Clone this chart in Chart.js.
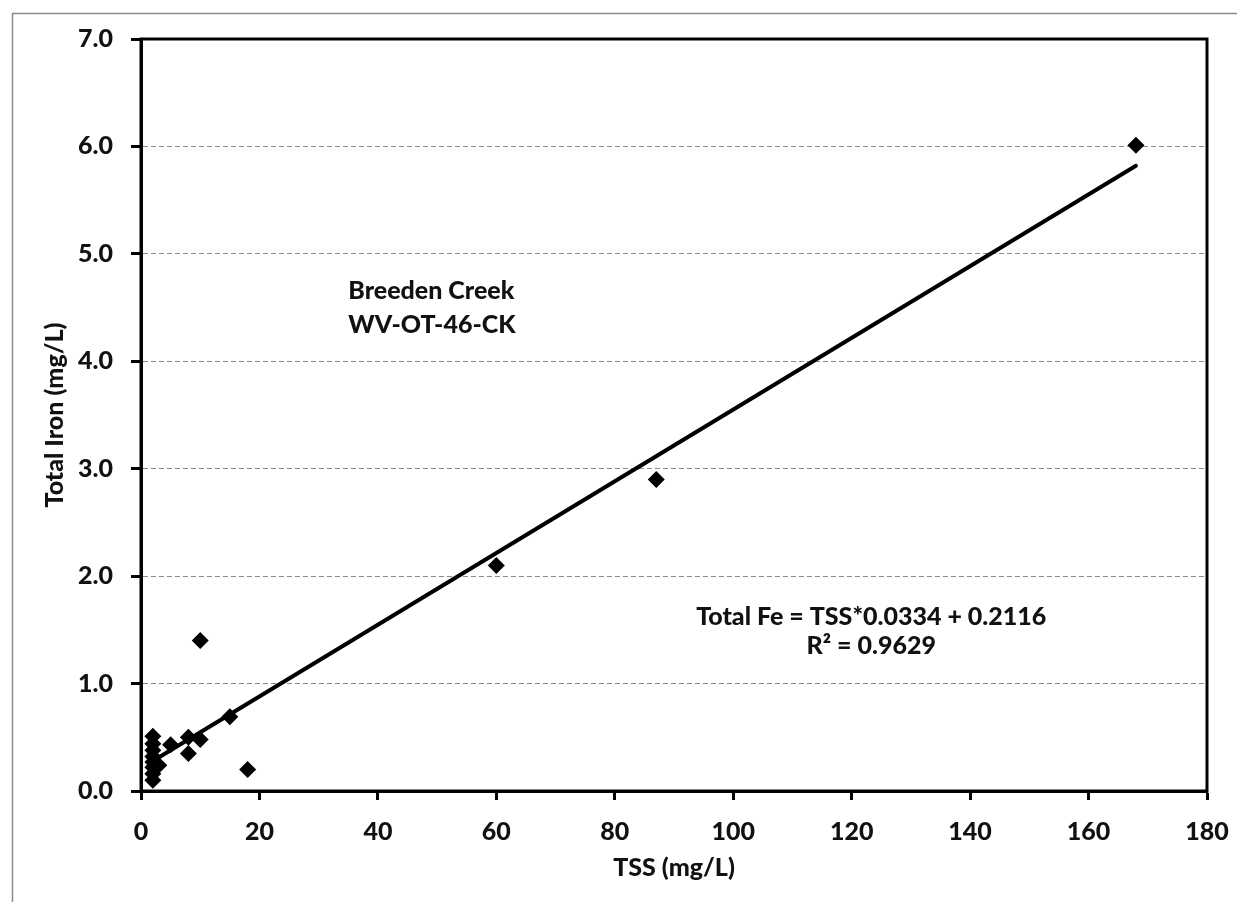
<!DOCTYPE html>
<html>
<head>
<meta charset="utf-8">
<script src="https://cdn.jsdelivr.net/npm/chart.js@4.4.0/dist/chart.umd.min.js"></script>
<style>
  html, body { margin: 0; padding: 0; background: #fff; }
  #wrap { width: 1237px; height: 902px; }
</style>
</head>
<body>
<div id="wrap"><canvas id="iron-chart" width="1237" height="902"></canvas></div>
<script>
// TSS vs total iron samples
const tssValues = [2, 2, 2, 2, 2, 2, 2, 2, 3, 5, 8, 8, 10, 15, 18, 10, 60, 87, 168];
const ironValues = [0.51, 0.44, 0.38, 0.32, 0.27, 0.22, 0.16, 0.10, 0.24, 0.43, 0.50, 0.35, 0.48, 0.69, 0.20, 1.40, 2.10, 2.90, 6.01];

// regression line end points
const trendX = [2, 168];
const trendY = [0.28, 5.82];

const xTicks = [0, 20, 40, 60, 80, 100, 120, 140, 160, 180];
const yTicks = [0, 1, 2, 3, 4, 5, 6, 7];

const siteLabel = ["Breeden Creek", "WV-OT-46-CK"];
const fitLabel = ["Total Fe = TSS*0.0334 + 0.2116", "R\u00b2 = 0.9629"];

const FONT = "Lato, 'Open Sans', sans-serif";
const FSIZE = 25;
const FWEIGHT = "900";

// outer gray frame + black plot frame + text notes
const decorPlugin = {
  id: "decor",
  beforeDraw(chart) {
    const c = chart.ctx;
    c.save();
    c.strokeStyle = "#8c8c8c";
    c.lineWidth = 1.5;
    c.beginPath();
    c.moveTo(12.5, chart.height);
    c.lineTo(12.5, 13.5);
    c.lineTo(chart.width, 13.5);
    c.stroke();
    c.restore();
  },
  afterDraw(chart) {
    const c = chart.ctx;
    const a = chart.chartArea;
    const xs = chart.scales.x;
    const ys = chart.scales.y;
    c.save();
    c.strokeStyle = "#000";
    c.lineWidth = 3;
    c.strokeRect(a.left, a.top, a.right - a.left, a.bottom - a.top);

    c.fillStyle = "#111";
    c.font = FWEIGHT + " " + FSIZE + "px " + FONT;
    c.textBaseline = "alphabetic";
    c.textAlign = "left";
    const sx = xs.getPixelForValue(35);
    const sy = ys.getPixelForValue(4.58);
    siteLabel.forEach((t, i) => c.fillText(t, sx, sy + i * 34));

    c.textAlign = "center";
    const fx = xs.getPixelForValue(123.3);
    const fy = ys.getPixelForValue(1.545);
    fitLabel.forEach((t, i) => c.fillText(t, fx, fy + i * 29));
    c.restore();
  },
};

new Chart(document.getElementById("iron-chart"), {
  type: "scatter",
  data: {
    datasets: [
      {
        label: "Samples",
        data: tssValues.map((x, i) => ({ x: x, y: ironValues[i] })),
        pointStyle: "rectRot",
        pointRadius: 8.5,
        pointHoverRadius: 8.5,
        backgroundColor: "#000",
        borderColor: "#000",
        borderWidth: 0,
        order: 1,
      },
      {
        label: "Trend",
        type: "line",
        data: trendX.map((x, i) => ({ x: x, y: trendY[i] })),
        borderColor: "#000",
        borderWidth: 4,
        borderCapStyle: "round",
        pointRadius: 0,
        fill: false,
        order: 2,
      },
    ],
  },
  options: {
    responsive: false,
    animation: false,
    devicePixelRatio: 1,
    layout: { padding: { left: 0, top: 39, right: 30, bottom: 0 } },
    plugins: {
      legend: { display: false },
      tooltip: { enabled: false },
    },
    scales: {
      x: {
        type: "linear",
        min: 0,
        max: 180,
        afterFit: (s) => { s.height = 111; s.paddingLeft = 0; s.paddingRight = 0; },
        afterBuildTicks: (s) => { s.ticks = xTicks.map((v) => ({ value: v })); },
        grid: {
          drawOnChartArea: false,
          tickLength: 9,
          tickWidth: 3,
          tickColor: "#000",
        },
        border: { color: "#000", width: 3 },
        ticks: {
          color: "#111",
          padding: 17,
          font: { family: FONT, size: FSIZE, weight: FWEIGHT },
        },
        title: {
          display: true,
          text: "TSS (mg/L)",
          color: "#111",
          padding: { top: 0, bottom: 19 },
          font: { family: FONT, size: FSIZE, weight: FWEIGHT },
        },
      },
      y: {
        type: "linear",
        min: 0,
        max: 7,
        afterFit: (s) => { s.width = 141; s.paddingTop = 0; s.paddingBottom = 0; },
        afterBuildTicks: (s) => { s.ticks = yTicks.map((v) => ({ value: v })); },
        grid: {
          color: (ctx) => (ctx.tick && (ctx.tick.value === 0 || ctx.tick.value === 7) ? "rgba(0,0,0,0)" : "#8a8a8a"),
          lineWidth: 1,
          tickLength: 10,
          tickWidth: 3,
          tickColor: "#000",
          tickBorderDash: [],
        },
        border: { color: "#000", width: 3, dash: [5, 3] },
        ticks: {
          color: "#111",
          padding: 18,
          callback: (v) => Number(v).toFixed(1),
          font: { family: FONT, size: FSIZE, weight: FWEIGHT },
        },
        title: {
          display: true,
          text: "Total Iron (mg/L)",
          color: "#111",
          padding: { top: 40, bottom: 0 },
          font: { family: FONT, size: FSIZE, weight: FWEIGHT },
        },
      },
    },
  },
  plugins: [decorPlugin],
});
</script>
</body>
</html>
